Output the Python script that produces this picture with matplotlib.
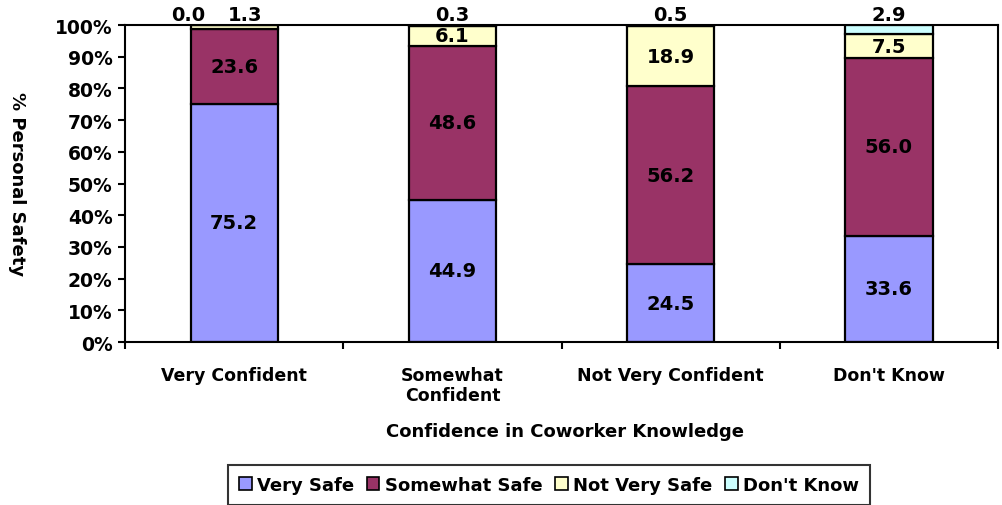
import matplotlib
matplotlib.use("Agg")
import matplotlib.pyplot as plt
import numpy as np
from matplotlib.patches import Patch

plt.rcParams['font.family'] = ['DejaVu Sans']
plt.rcParams['font.weight'] = 'bold'

# data
categories = ["Very Confident", "Somewhat\nConfident", "Not Very Confident", "Don't Know"]
series_names = ["Very Safe", "Somewhat Safe", "Not Very Safe", "Don't Know"]
very_safe = [75.2, 44.9, 24.5, 33.6]
somewhat_safe = [23.6, 48.6, 56.2, 56.0]
not_very_safe = [1.3, 6.1, 18.9, 7.5]
dont_know = [0.0, 0.3, 0.5, 2.9]
colors = ["#9999FF", "#993366", "#FFFFCC", "#CCFFFF"]
yticks = [0, 10, 20, 30, 40, 50, 60, 70, 80, 90, 100]

fig = plt.figure(figsize=(10.02, 5.06), dpi=100)
ax = fig.add_axes([0.1248, 0.322, 0.8712, 0.6266])

x = np.arange(len(categories))
series = [very_safe, somewhat_safe, not_very_safe, dont_know]
bottom = np.zeros(len(categories))
tops = []
for vals, col in zip(series, colors):
    ax.bar(x, vals, width=0.4, bottom=bottom, color=col, edgecolor="black", linewidth=1.6)
    tops.append(bottom.copy())
    bottom = bottom + np.array(vals)

# labels in bars
for s, vals in enumerate(series):
    for i, v in enumerate(vals):
        b = tops[s][i]
        if v >= 5:
            ax.text(x[i], b + v / 2, f"{v:.1f}", ha="center", va="center",
                    fontsize=14, fontweight="bold")

# small segments labelled above the bar
ax.text(x[0] - 0.21, 100.3, f"{dont_know[0]:.1f}", ha="center", va="bottom", fontsize=14, fontweight="bold")
ax.text(x[0] + 0.05, 100.3, f"{not_very_safe[0]:.1f}", ha="center", va="bottom", fontsize=14, fontweight="bold")
for i in range(1, 4):
    ax.text(x[i], 100.3, f"{dont_know[i]:.1f}", ha="center", va="bottom", fontsize=14, fontweight="bold")

ax.set_xlim(-0.5, 3.5)
ax.set_ylim(0, 100)
ax.set_yticks(yticks)
ax.set_yticklabels([f"{t}%" for t in yticks], fontsize=13.5, fontweight="bold")
ax.set_xticks(np.arange(-0.5, 4, 1))
ax.set_xticklabels([])
ax.tick_params(axis="y", direction="out", length=5, width=1.5, pad=4)
ax.tick_params(axis="x", direction="out", length=5, width=1.5)
for i, c in enumerate(categories):
    ax.text(x[i], -7.5, c, ha="center", va="top", fontsize=12.5, fontweight="bold",
            linespacing=1.15)
for sp in ax.spines.values():
    sp.set_linewidth(1.5)

ax.set_ylabel("% Personal Safety", rotation=-90, fontsize=13, fontweight="bold")
ax.yaxis.set_label_coords(-0.134, 0.5)
fig.text(0.564, 0.146, "Confidence in Coworker Knowledge", ha="center", va="center",
         fontsize=13, fontweight="bold")

handles = [Patch(facecolor=c, edgecolor="black", linewidth=1.2) for c in colors]
leg = fig.legend(handles, series_names, loc="center", bbox_to_anchor=(0.548, 0.04),
                 ncol=4, fontsize=13, frameon=True, fancybox=False, handlelength=0.7,
                 handleheight=0.7, handletextpad=0.3, columnspacing=0.7, borderpad=0.6)
leg.get_frame().set_edgecolor("black")
leg.get_frame().set_linewidth(1.5)

fig.savefig("out.png", dpi=100)
